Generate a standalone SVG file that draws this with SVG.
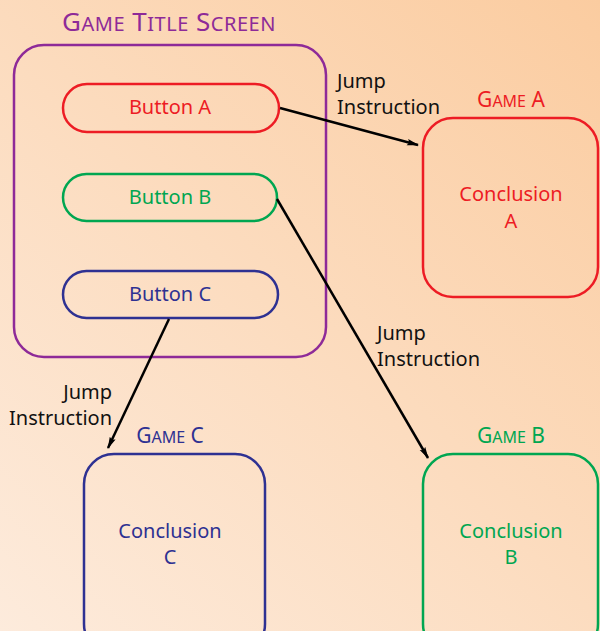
<svg xmlns="http://www.w3.org/2000/svg" width="600" height="631" viewBox="0 0 600 631">
<defs>
<linearGradient id="bg" x1="0" y1="631" x2="600" y2="0" gradientUnits="userSpaceOnUse">
<stop offset="0" stop-color="#fdebdc"/>
<stop offset="1" stop-color="#fbcca0"/>
</linearGradient>
<marker id="ah" markerWidth="12" markerHeight="8" refX="11" refY="4" orient="auto" markerUnits="userSpaceOnUse">
<path d="M0,0.8 L12,4 L0,7.2 L2,4 Z" fill="#000"/>
</marker>
<style>
text{font-family:"Noto Sans","Open Sans","DejaVu Sans",sans-serif;font-size:20px}
.c{text-anchor:middle}
.t{font-size:26px;letter-spacing:0.5px}
.t .s{font-size:20px}
.g{font-size:21px}
.g .s{font-size:16px}
.box{fill:none;stroke-width:2.5}
.lbl{fill:#111}
.conn{stroke:#000;stroke-width:2.5;fill:none;marker-end:url(#ah)}
</style>
</defs>
<rect width="600" height="631" fill="url(#bg)"/>
<g id="title-screen">
<text class="c t" x="169" y="31" fill="#8e2a98">G<tspan class="s">AME</tspan> T<tspan class="s">ITLE</tspan> S<tspan class="s">CREEN</tspan></text>
<rect class="box" x="14" y="45" width="312" height="312" rx="30" stroke="#8e2a98"/>
</g>
<g id="button-a">
<rect class="box" x="63" y="84" width="216" height="48" rx="24" stroke="#ed1c24"/>
<text class="c" x="170" y="114" fill="#ed1c24">Button A</text>
</g>
<g id="button-b">
<rect class="box" x="63" y="174" width="214" height="47" rx="23.5" stroke="#00a651"/>
<text class="c" x="170" y="204" fill="#00a651">Button B</text>
</g>
<g id="button-c">
<rect class="box" x="63" y="271" width="215" height="47" rx="23.5" stroke="#2e3192"/>
<text class="c" x="170" y="301" fill="#2e3192">Button C</text>
</g>
<g id="game-a">
<text class="c g" x="511" y="107" fill="#ed1c24">G<tspan class="s">AME</tspan> A</text>
<rect class="box" x="423" y="118" width="175" height="179" rx="30" stroke="#ed1c24"/>
<text class="c" x="511" y="201" fill="#ed1c24">Conclusion</text>
<text class="c" x="511" y="228" fill="#ed1c24">A</text>
</g>
<g id="game-b">
<text class="c g" x="511" y="443" fill="#00a651">G<tspan class="s">AME</tspan> B</text>
<rect class="box" x="423" y="454" width="175" height="200" rx="30" stroke="#00a651"/>
<text class="c" x="511" y="538" fill="#00a651">Conclusion</text>
<text class="c" x="511" y="564" fill="#00a651">B</text>
</g>
<g id="game-c">
<text class="c g" x="170" y="443" fill="#2e3192">G<tspan class="s">AME</tspan> C</text>
<rect class="box" x="84" y="454" width="181" height="200" rx="30" stroke="#2e3192"/>
<text class="c" x="170" y="538" fill="#2e3192">Conclusion</text>
<text class="c" x="170" y="564" fill="#2e3192">C</text>
</g>
<g id="connectors">
<line class="conn" x1="280" y1="108" x2="418" y2="145"/>
<line class="conn" x1="277" y1="199" x2="428" y2="458"/>
<line class="conn" x1="169" y1="319" x2="108" y2="448"/>
<text class="lbl" x="337" y="88">Jump</text>
<text class="lbl" x="337" y="114">Instruction</text>
<text class="lbl" x="377" y="340">Jump</text>
<text class="lbl" x="377" y="366">Instruction</text>
<text class="lbl" x="112" y="399" text-anchor="end">Jump</text>
<text class="lbl" x="112" y="425" text-anchor="end">Instruction</text>
</g>
</svg>
